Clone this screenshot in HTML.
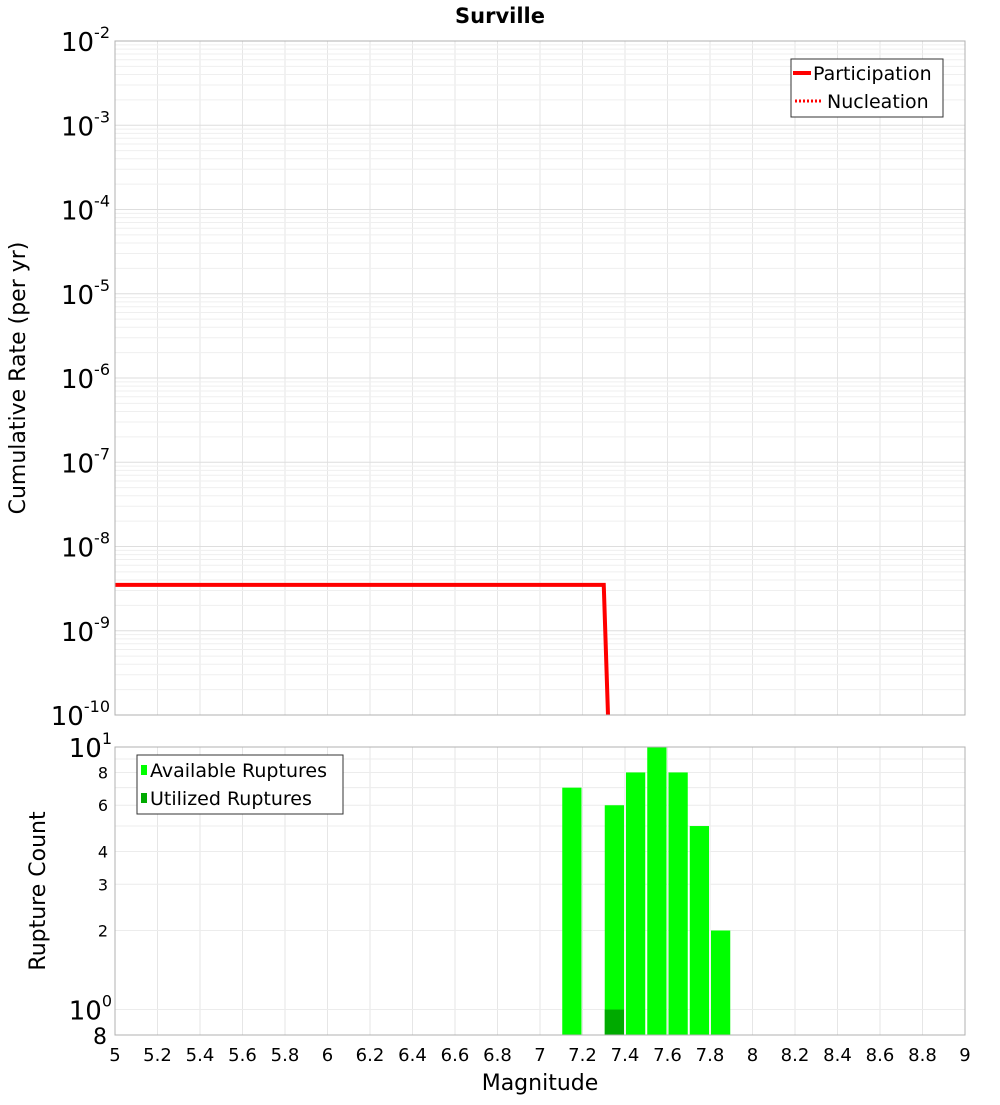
<!DOCTYPE html>
<html><head><meta charset="utf-8"><style>
body{margin:0;background:#fff;width:1000px;height:1100px;overflow:hidden}
svg text{font-family:"DejaVu Sans","Liberation Sans",sans-serif}
</style></head><body>
<svg id="c" width="1000" height="1100" xmlns="http://www.w3.org/2000/svg">
<text x="500" y="23" text-anchor="middle" font-size="21" font-weight="bold">Surville</text>
<text transform="translate(25,378) rotate(-90)" text-anchor="middle" font-size="22">Cumulative Rate (per yr)</text>
<text transform="translate(45,891) rotate(-90)" text-anchor="middle" font-size="22">Rupture Count</text>
<text x="540" y="1090" text-anchor="middle" font-size="22">Magnitude</text>
<g id="grid"></g><g id="marks"></g><g id="axes"></g>
</svg>
<script>
const rateMags=[5.0,7.3,7.32];
const rateVals=[3.5e-9,3.5e-9,1e-10];
const binCenters=[7.15,7.35,7.45,7.55,7.65,7.75,7.85];
const availCounts=[7,6,8,10,8,5,2];
const utilCounts=[0,1,0,0,0,0,0];
const xTicks=[5,5.2,5.4,5.6,5.8,6,6.2,6.4,6.6,6.8,7,7.2,7.4,7.6,7.8,8,8.2,8.4,8.6,8.8,9];
const topExps=[-2,-3,-4,-5,-6,-7,-8,-9,-10];
const botTicks=[2,3,4,6,8];
const NS="http://www.w3.org/2000/svg";
const X0=115,X1=965,T0=41,T1=715,B0=747,B1=1035;
const xs=m=>X0+(m-5)/4*(X1-X0);
const yt=v=>T0+(-2-Math.log10(v))/8*(T1-T0);
const lb0=Math.log10(0.8);
const yb=v=>B1-(Math.log10(v)-lb0)/(1-lb0)*(B1-B0);
function mk(p,t,a){const e=document.createElementNS(NS,t);for(const k in a)e.setAttribute(k,a[k]);document.getElementById(p).appendChild(e);return e;}
for(const m of xTicks){
 let g=mk('grid','line',{x1:xs(m),x2:xs(m),y1:T0,y2:T1,stroke:'#e6e6e6'});
 
 
 let h=mk('grid','line',{x1:xs(m),x2:xs(m),y1:B0,y2:B1,stroke:'#e6e6e6'});
 
 
}
for(let e=-10;e<-2;e++){for(let k=1;k<10;k++){
 const y=yt(k*Math.pow(10,e));
 let g=mk('grid','line',{x1:X0,x2:X1,y1:y,y2:y,stroke:k==1?'#dedede':'#efefef'});
 
 
}}
for(const v of [1,2,3,4,5,6,7,8,9]){
 const y=yb(v);
 let g=mk('grid','line',{x1:X0,x2:X1,y1:y,y2:y,stroke:'#ececec'});
 
 
}
let pts=rateMags.map((m,i)=>xs(m)+','+yt(rateVals[i])).join(' ');
let pl=mk('marks','polyline',{points:pts,fill:'none',stroke:'#ff0000','stroke-width':4});


let nl=mk('marks','polyline',{points:pts,fill:'none',stroke:'#ff0000','stroke-width':2,'stroke-dasharray':'2,2'});


const bw=(xs(5.1)-xs(5))-2;
binCenters.forEach((c,i)=>{
 if(availCounts[i]>0){const y=yb(availCounts[i]);
 let r=mk('marks','rect',{x:xs(c)-bw/2,y:y,width:bw,height:B1-y,fill:'#00ff00'});
 
 }
 if(utilCounts[i]>0){const y=yb(utilCounts[i]);
 let r=mk('marks','rect',{x:xs(c)-bw/2,y:y,width:bw,height:B1-y,fill:'#00aa00'});
 
 }
});
let f1=mk('axes','rect',{x:X0,y:T0,width:X1-X0,height:T1-T0,fill:'none',stroke:'#b0b0b0'});


let f2=mk('axes','rect',{x:X0,y:B0,width:X1-X0,height:B1-B0,fill:'none',stroke:'#b0b0b0'});


for(const m of xTicks){
 let t=mk('axes','text',{x:xs(m),y:1061,'text-anchor':'middle','font-size':18});
 t.textContent=String(m);
 
 
}
for(const e of topExps){
 const y=yt(Math.pow(10,e));
 let t=mk('axes','text',{x:110,y:y+10,'text-anchor':'end','font-size':26});
 t.innerHTML='10<tspan dy="-13" font-size="16">'+e+'</tspan>';
 
 
}
[[10,'1'],[1,'0']].forEach(([v,e])=>{
 let t=mk('axes','text',{x:112,y:yb(v)+10,'text-anchor':'end','font-size':26});
 t.innerHTML='10<tspan dy="-13" font-size="16">'+e+'</tspan>';
 
 
});
for(const v of botTicks){
 let t=mk('axes','text',{x:108,y:yb(v)+6,'text-anchor':'end','font-size':16});
 t.textContent=v;
 
 
}
let t8=mk('axes','text',{x:107,y:1044,'text-anchor':'end','font-size':22});
t8.textContent='8';


</script>
<svg style="position:absolute;left:0;top:0" width="1000" height="1100">
<g>
<rect x="791" y="59" width="152" height="58" fill="#fff" stroke="#333"/>
<line x1="793" y1="73" x2="811" y2="73" stroke="#f00" stroke-width="4"/>
<text x="813" y="80" font-size="19" font-family="DejaVu Sans,sans-serif">Participation</text>
<line x1="795" y1="101" x2="821" y2="101" stroke="#f00" stroke-width="3" stroke-dasharray="2,2"/>
<text x="827" y="108" font-size="19" font-family="DejaVu Sans,sans-serif">Nucleation</text>
</g>
<g>
<rect x="137" y="755" width="206" height="59" fill="#fff" stroke="#333"/>
<rect x="141" y="765" width="6" height="10" fill="#00ff00"/>
<text x="150" y="777" font-size="19" font-family="DejaVu Sans,sans-serif">Available Ruptures</text>
<rect x="141" y="793" width="6" height="10" fill="#00aa00"/>
<text x="150" y="805" font-size="19" font-family="DejaVu Sans,sans-serif">Utilized Ruptures</text>
</g>
</svg>
</body></html>
